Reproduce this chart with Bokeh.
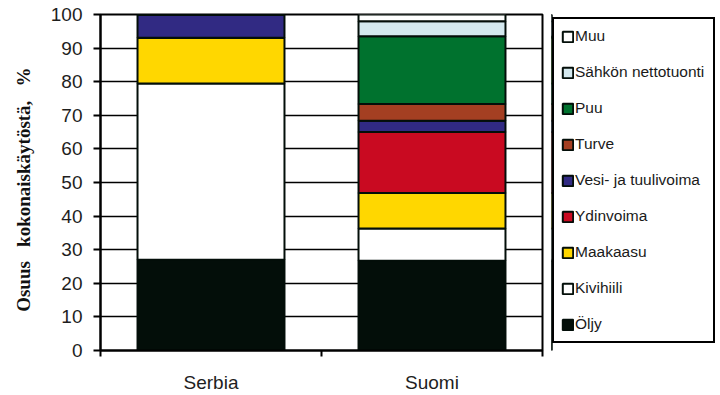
from bokeh.plotting import figure
from bokeh.models import (Range1d, FixedTicker, SingleIntervalTicker, Legend,
                          LegendItem, ColumnDataSource)
from bokeh.layouts import row
from bokeh.embed import file_html
from bokeh.resources import INLINE

# ---- data ----
countries = ["Serbia", "Suomi"]
series = ["Öljy", "Kivihiili", "Maakaasu", "Ydinvoima", "Vesi- ja tuulivoima",
          "Turve", "Puu", "Sähkön nettotuonti", "Muu"]
oljy = [27.0, 26.7]
kivihiili = [52.5, 9.6]
maakaasu = [13.6, 10.6]
ydinvoima = [0.0, 18.1]
vesi = [6.9, 3.4]
turve = [0.0, 5.0]
puu = [0.0, 20.1]
sahko = [0.0, 4.5]
muu = [0.0, 2.0]

colors = ["#030e09", "#ffffff", "#ffd700", "#c90a21", "#312a83",
          "#a43f22", "#00722e", "#d4e9ef", "#ffffff"]

values = [oljy, kivihiili, maakaasu, ydinvoima, vesi, turve, puu, sahko, muu]
keys = ["s%d" % i for i in range(len(series))]
data = {"x": [i + 0.5 for i in range(len(countries))]}
for k, v in zip(keys, values):
    data[k] = v
source = ColumnDataSource(data)

# ---- main chart ----
p = figure(width=551, height=395,
           output_backend="svg", toolbar_location=None,
           x_range=Range1d(0, len(countries)), y_range=Range1d(0, 100),
           min_border_left=100, min_border_right=9, min_border_top=14,
           min_border_bottom=43, background_fill_color="white",
           border_fill_color="white")

renderers = p.vbar_stack(keys, x="x", width=0.665, source=source,
                         fill_color=colors, line_color="#030e09", line_width=2)

yax = p.yaxis[0]
yax.ticker = SingleIntervalTicker(interval=10)
yax.minor_tick_line_color = None
yax.major_tick_out = 7
yax.major_tick_in = 0
yax.major_tick_line_width = 2
yax.major_tick_line_color = "black"
yax.axis_line_width = 2
yax.axis_line_color = "black"
yax.major_label_text_font = "Liberation Sans"
yax.major_label_text_font_size = "19px"
yax.major_label_text_color = "#1e1e1e"
yax.major_label_standoff = 11
yax.axis_label = ("Osuus" + "\u00a0" * 3 + "kokonaiskäytöstä," + "\u00a0" * 3
                  + "%" + "\u00a0" * 3)
yax.axis_label_text_font = "Liberation Serif"
yax.axis_label_text_font_style = "bold"
yax.axis_label_text_font_size = "19px"
yax.axis_label_text_color = "#111111"
yax.axis_label_standoff = 14

xax = p.xaxis[0]
xax.ticker = FixedTicker(ticks=[i + 0.5 for i in range(len(countries))],
                         minor_ticks=list(range(len(countries) + 1)))
xax.major_label_overrides = {i + 0.5: c for i, c in enumerate(countries)}
xax.major_tick_out = 0
xax.major_tick_in = 0
xax.minor_tick_out = 6
xax.minor_tick_in = 0
xax.minor_tick_line_width = 2
xax.minor_tick_line_color = "black"
xax.axis_line_width = 2
xax.axis_line_color = "black"
xax.major_label_text_font = "Liberation Sans"
xax.major_label_text_font_size = "19px"
xax.major_label_text_color = "#1e1e1e"
xax.major_label_standoff = 15

p.xgrid.grid_line_color = None
p.ygrid.grid_line_color = "black"
p.ygrid.grid_line_width = 1.5
p.ygrid.ticker = SingleIntervalTicker(interval=10)
p.outline_line_color = "black"
p.outline_line_width = 2
p.outline_line_alpha = 1

# ---- legend panel (same series, bars kept out of view) ----
q = figure(width=169, height=395, output_backend="svg", toolbar_location=None,
           x_range=Range1d(100, 101), y_range=Range1d(0, 100),
           x_axis_type=None, y_axis_type=None,
           min_border_left=0, min_border_right=0, min_border_top=0,
           min_border_bottom=0, background_fill_color="white",
           border_fill_color="white")
q.outline_line_color = None
q.xgrid.grid_line_color = None
q.ygrid.grid_line_color = None
leg_renderers = q.vbar_stack(keys, x="x", width=0.665, source=source,
                             fill_color=colors, line_color="#030e09", line_width=2)

items = [LegendItem(label=s, renderers=[r]) for s, r in zip(series, leg_renderers)][::-1]
legend = Legend(items=items, location=(1, 7), orientation="vertical",
                glyph_width=13, glyph_height=13, label_height=20,
                label_width=131, label_standoff=1, spacing=16, padding=7,
                margin=0, border_line_color="black", border_line_width=2,
                border_line_alpha=1,
                background_fill_color="white", background_fill_alpha=1,
                label_text_font="Liberation Sans", label_text_font_size="15.5px",
                label_text_color="#1a1a1a")
q.add_layout(legend, "center")

layout = row(p, q, spacing=0)
open("out.html", "w").write(file_html(layout, INLINE))
